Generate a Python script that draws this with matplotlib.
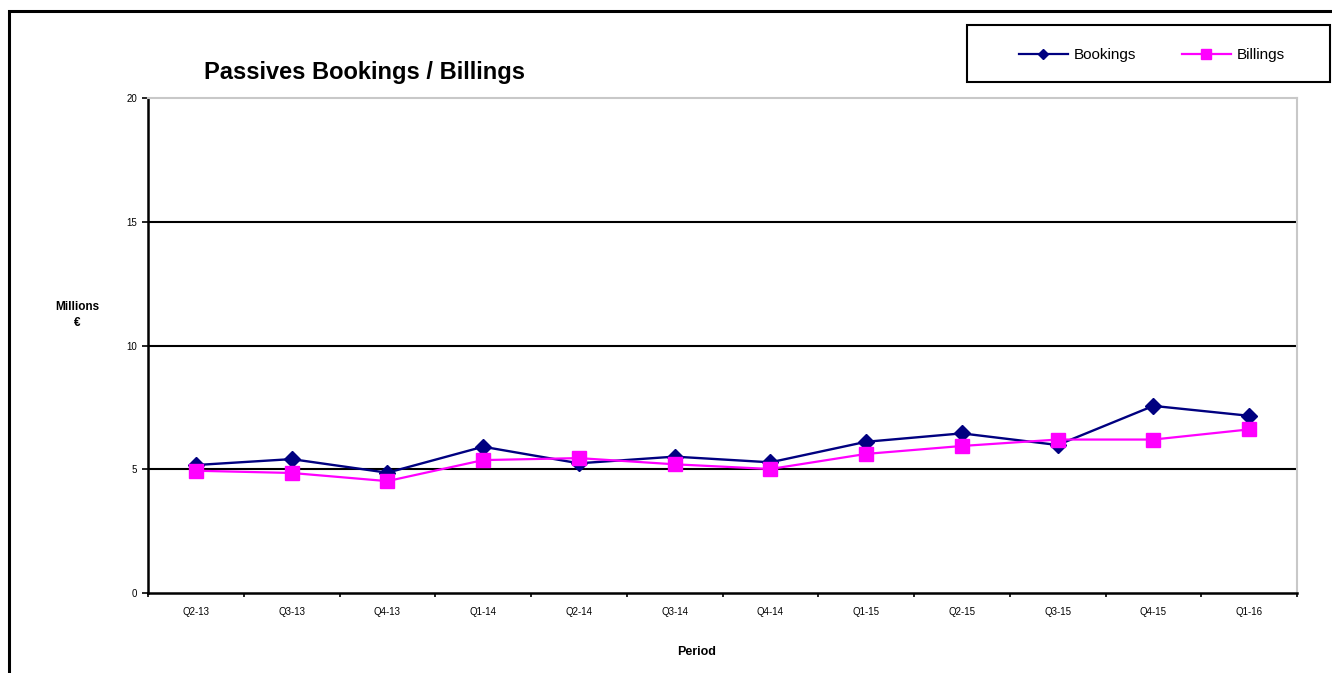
import matplotlib
matplotlib.use("Agg")
import matplotlib.pyplot as plt
from matplotlib.patches import Rectangle
from matplotlib.lines import Line2D

plt.rcParams['font.family'] = ['Liberation Sans', 'DejaVu Sans']

periods = ["Q2-13", "Q3-13", "Q4-13", "Q1-14", "Q2-14", "Q3-14",
           "Q4-14", "Q1-15", "Q2-15", "Q3-15", "Q4-15", "Q1-16"]
bookings = [5.17, 5.41, 4.86, 5.91, 5.24, 5.51, 5.28, 6.11, 6.45, 5.98, 7.56, 7.16]
billings = [4.94, 4.85, 4.52, 5.37, 5.45, 5.20, 5.01, 5.62, 5.94, 6.20, 6.20, 6.61]
y_ticks = [0, 5, 10, 15, 20]

W, H = 1332, 673
fig = plt.figure(figsize=(W / 100, H / 100), dpi=100)
ax = fig.add_axes([148 / W, 1 - 593 / H, (1297 - 148) / W, (593 - 98) / H])

x = list(range(len(periods)))
ax.plot(x, bookings, color="#000080", lw=1.7, marker="D", ms=8,
        label="Bookings", zorder=3)
ax.plot(x, billings, color="#FF00FF", lw=1.6, marker="s", ms=10.5,
        label="Billings", zorder=4)

ax.set_xlim(-0.5, len(periods) - 0.5)
ax.set_ylim(0, 20)
ax.set_yticks(y_ticks)
ax.set_yticklabels([str(v) for v in y_ticks], fontsize=7)
for v in y_ticks[1:-1]:
    ax.axhline(v, color="black", lw=1.5, zorder=1)

ax.set_xticks(x)
ax.set_xticklabels(periods, fontsize=7)
ax.set_xticks([i - 0.5 for i in range(len(periods) + 1)], minor=True)
ax.tick_params(axis="x", which="major", length=0, pad=10)
ax.tick_params(axis="x", which="minor", length=3, width=1.2, direction="out")
ax.tick_params(axis="y", length=4, width=1.2, direction="out", pad=4)

for s in ["left", "bottom"]:
    ax.spines[s].set_linewidth(1.8)
    ax.spines[s].set_color("black")
for s in ["top", "right"]:
    ax.spines[s].set_linewidth(1.5)
    ax.spines[s].set_color("#c8c8c8")

fig.text(365 / W, 1 - 72 / H, "Passives Bookings / Billings", fontsize=17,
         fontweight="bold", ha="center", va="center")
fig.text(77 / W, 1 - 307 / H, "Millions", fontsize=8.5, fontweight="bold",
         ha="center", va="center")
fig.text(77 / W, 1 - 323 / H, "€", fontsize=8.5, fontweight="bold",
         ha="center", va="center")
fig.text(697 / W, 1 - 652 / H, "Period", fontsize=9, fontweight="bold",
         ha="center", va="center")

# outer chart frame (clipped at right/bottom)
fig.patches.append(Rectangle((8.5 / W, -0.2), 1.2, 1.2 - 11 / H,
                             transform=fig.transFigure, fill=False,
                             edgecolor="black", lw=2.2))

# legend box
fig.patches.append(Rectangle((967 / W, 1 - 82 / H), (1330 - 967) / W, 57 / H,
                             transform=fig.transFigure, fill=False,
                             edgecolor="black", lw=1.5))
handles = [
    Line2D([], [], color="#000080", lw=1.6, marker="D", ms=5.5),
    Line2D([], [], color="#FF00FF", lw=1.6, marker="s", ms=7),
]
fig.legend(handles, ["Bookings", "Billings"], loc="center",
           bbox_to_anchor=(1152 / W, 1 - 55 / H), ncol=2, frameon=False,
           fontsize=11, handlelength=3.2, columnspacing=3.0, handletextpad=0.4)

fig.savefig("out.png", dpi=100, facecolor="white")
